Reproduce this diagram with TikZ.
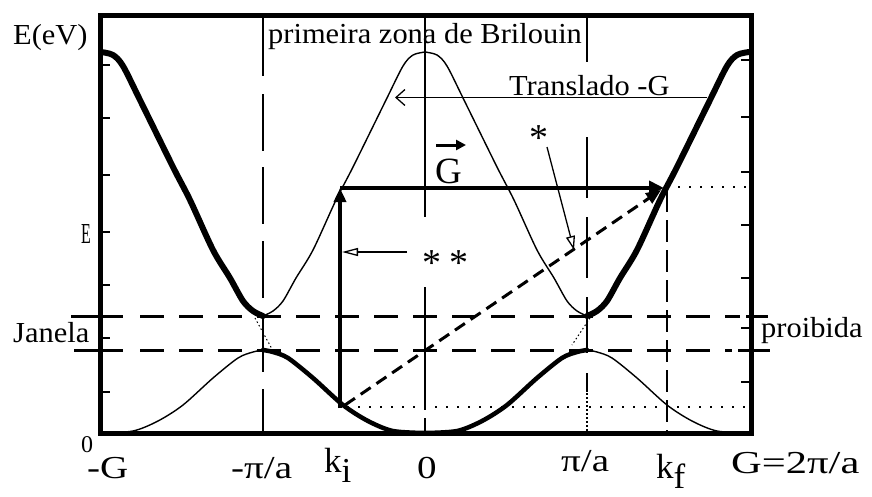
\documentclass[tikz,border=0pt]{standalone}
\usepackage{fontspec}
\setmainfont{Liberation Serif}
\usetikzlibrary{arrows.meta}
\newcommand\myhs[1]{\scalebox{1.05}[1]{#1}}
\newcommand\mybs[1]{\scalebox{1.22}[1]{#1}}
\begin{document}
\begin{tikzpicture}[x=1pt,y=-1pt,
  lbl/.style={inner sep=0pt,anchor=base west,font=\fontsize{29}{34}\selectfont},
  astlbl/.style={inner sep=0pt,anchor=base west,font=\fontsize{38}{42}\selectfont},
  blbl/.style={inner sep=0pt,anchor=base west,font=\fontsize{32}{38}\selectfont},
  klbl/.style={inner sep=0pt,anchor=base west,font=\fontsize{35}{40}\selectfont},
  thinline/.style={line width=1.3pt},
  bandthin/.style={line width=1.4pt},
  bandthick/.style={line width=6pt,line cap=round,line join=round},
  lowthick/.style={line width=4.5pt,line cap=round,line join=round},
  gapdash/.style={line width=3pt},
  dotline/.style={line width=1.6pt,dash pattern=on 2pt off 9pt},
  gapdot/.style={line width=1pt,dash pattern=on 1.5pt off 2.5pt},
  axisframe/.style={line width=5pt},
  ubranch/.pic={\path[pic actions] plot[smooth] coordinates {(0,316) (10,311) (20,301) (33,278) (50,250) (73,200) (90,167) (123,100) (140,66) (150,55) (162,52)};},
  lbranch/.pic={\path[pic actions] plot[smooth] coordinates {(0,350) (10,352) (25,358) (50,378) (80,405) (105,421) (130,431) (162,433)};},
]
\useasboundingbox[fill=white] (0,0) rectangle (872,496);

% vertical reference lines
\foreach \a/\b in {17/76, 94/151, 167/224, 241/298, 315/372, 389/433}
  \draw[thinline] (263,\a) -- (263,\b);
\foreach \a/\b in {17/217, 287/410, 418/433}
  \draw[thinline] (425,\a) -- (425,\b);
\foreach \a/\b in {17/62, 137/198, 217/278, 297/353, 373/392}
  \draw[thinline] (587,\a) -- (587,\b);
\draw[thinline,dash pattern=on 2pt off 2pt] (587,393) -- (587,433);
\draw[thinline,dash pattern=on 22pt off 8pt] (667,190) -- (667,433);

% gap lines
\draw[gapdash] (71,316) -- (123,316);
\draw[gapdash,dash pattern=on 24pt off 15pt] (140,316) -- (740,316);
\draw[gapdash] (746,316) -- (768,316);
\draw[gapdash] (74,350) -- (123,350);
\draw[gapdash,dash pattern=on 24pt off 15pt] (140,350) -- (732,350);
\draw[gapdash] (738,350) -- (770,350);

% dotted levels
\draw[dotline] (667,187) -- (750,187);
\draw[dotline] (347,407) -- (748,407);

% bands
\pic[draw,bandthick] at (587,0) {ubranch};
\pic[draw,bandthick,xscale=-1] at (263,0) {ubranch};
\pic[draw,bandthin] at (263,0) {ubranch};
\pic[draw,bandthin,xscale=-1] at (587,0) {ubranch};
\pic[draw,lowthick] at (263,0) {lbranch};
\pic[draw,lowthick,xscale=-1] at (587,0) {lbranch};
\pic[draw,bandthin,xscale=-1] at (263,0) {lbranch};
\pic[draw,bandthin] at (587,0) {lbranch};
\draw[gapdot] (255,318) -- (272,349);
\draw[gapdot] (590,318) -- (572,345);

% frame and ticks
\draw[axisframe] (100,15) rectangle (751,433);
\foreach \y in {65,118,175,232,285,338,392}
  \draw[line width=1.5pt] (100,\y) -- (110,\y);
\foreach \y in {60,117,172,225,278,328,382}
  \draw[line width=1.5pt] (741,\y) -- (751,\y);

% labels
\node[lbl] (eev) at (13,44) {\myhs{E(eV)}};
\node[lbl] (zona) at (268,43) {\myhs{primeira zona de Brilouin}};
\node[lbl] (transl) at (509,95) {\myhs{Translado -G}};
\node[astlbl] (star) at (529,150) {*};
\node[astlbl] (dstar) at (422,275) {*\hspace{8pt}*};
\node[lbl] (janela) at (13,342) {\myhs{Janela}};
\node[lbl] (proib) at (761,337) {\myhs{proibida}};
\node[inner sep=0pt,anchor=base west,font=\fontsize{37}{42}\selectfont] (gvec) at (435,183) {G};
\node[inner sep=0pt,anchor=base west,font=\fontsize{29}{32}\selectfont] (eaxis) at (81,243) {\scalebox{0.55}[1]{E}};
\node[inner sep=0pt,anchor=base west,font=\fontsize{24}{28}\selectfont] (zeroleft) at (81,452) {0};
\node[blbl] (mg) at (87,478) {\mybs{-G}};
\node[blbl] (mpa) at (231,478) {\mybs{-π/a}};
\node[klbl] (ki) at (324,472) {k\raisebox{-10pt}{i}};
\node[blbl] (zero) at (417,478) {\mybs{0}};
\node[blbl] (ppa) at (561,471) {\mybs{π/a}};
\node[klbl] (kf) at (656,478) {k\raisebox{-10pt}{f}};
\node[blbl] (gg) at (731,473) {\scalebox{1.33}[1]{G=2π/a}};

% arrows
\coordinate (kibot) at (340,408);
\coordinate (kitop) at (340,188);
\coordinate (kfarr) at (664,188);
\coordinate (diagstart) at (345,405);
\coordinate (diagend) at (661,190);
\coordinate (transR) at (707,97.5);
\coordinate (transL) at (395,97.5);
\coordinate (startail) at (547,147);
\coordinate (starhead) at (574,250);
\coordinate (dstartail) at (407,252);
\coordinate (dstarhead) at (342,252);
\coordinate (vecL) at (436,145);
\coordinate (vecR) at (466,145);

\draw[line width=4pt,-{Triangle[length=14pt,width=12pt]}] (kibot) -- (kitop);
\draw[line width=4pt,-{Triangle[length=15pt,width=14pt]}] (kitop) -- (kfarr);
\draw[line width=3pt,dash pattern=on 12pt off 7pt,-{Triangle[length=15pt,width=12pt]}] (diagstart) -- (diagend);
\draw[thinline,-{Straight Barb[length=9pt,width=16pt]}] (transR) -- (transL);
\draw[thinline,-{Triangle[open,length=14pt,width=9pt]}] (startail) -- (starhead);
\draw[thinline,-{Triangle[open,length=16pt,width=8pt]}] (dstartail) -- (dstarhead);
\draw[line width=3pt,-{Triangle[length=10pt,width=10pt]}] (vecL) -- (vecR);
\end{tikzpicture}
\end{document}
